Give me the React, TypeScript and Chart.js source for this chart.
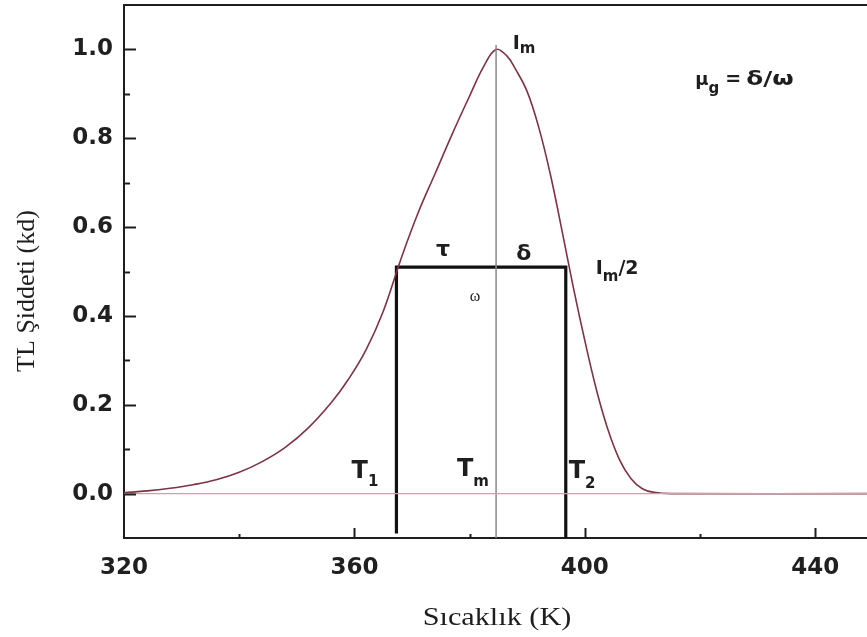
import React, { useEffect, useRef } from 'react';
import { Chart, registerables } from 'chart.js';
Chart.register(...registerables);

// ---- data ----
const xMin = 320;
const xMax = 449;
const yMin = -0.1;
const yMax = 1.1;

const curveT = [320, 324, 328, 332, 336, 340, 344, 348, 352, 356, 359, 362, 365, 368, 371, 374, 377, 380, 382.5, 384.6, 386.5, 388, 390, 392, 394, 396, 398, 400, 402, 404, 406, 408, 410, 412, 415, 449];
const curveI = [0.002, 0.006, 0.012, 0.02, 0.031, 0.048, 0.072, 0.104, 0.148, 0.205, 0.258, 0.323, 0.41, 0.525, 0.63, 0.72, 0.81, 0.895, 0.963, 1.0, 0.985, 0.955, 0.905, 0.825, 0.72, 0.595, 0.465, 0.345, 0.235, 0.145, 0.077, 0.034, 0.011, 0.003, 0.0, 0.0];

const baseT = [320, 449];
const baseI = [0, 0];

const tmT = [384.6, 384.6];
const tmI = [1.01, -0.1];

const boxT = [367.3, 367.3, 396.7, 396.7];
const boxI = [-0.09, 0.51, 0.51, -0.1];

const xTickLabels = ['320', '360', '400', '440'];
const yTickLabels = ['0.0', '0.2', '0.4', '0.6', '0.8', '1.0'];

const xTitle = 'Sıcaklık (K)';
const yTitle = 'TL Şiddeti (kd)';

type Seg = { t: string; size: number; dy?: number; serif?: boolean; gap?: number; sx?: number };
type Ann = { x: number; y: number; align?: 'left' | 'center'; segs: Seg[] };

const annotations: Ann[] = [
  { x: 387.5, y: 1.002, segs: [{ t: 'I', size: 19 }, { t: 'm', size: 15, dy: 4 }] },
  { x: 401.9, y: 0.494, segs: [{ t: 'I', size: 19 }, { t: 'm', size: 15, dy: 7 }, { t: '/2', size: 19 }] },
  { x: 375.4, y: 0.535, align: 'center', segs: [{ t: 'τ', size: 22 }] },
  { x: 389.4, y: 0.526, align: 'center', segs: [{ t: 'δ', size: 22 }] },
  { x: 380.95, y: 0.434, align: 'center', segs: [{ t: 'ω', size: 16, serif: true }] },
  { x: 419.2, y: 0.921, segs: [{ t: 'μ', size: 18 }, { t: 'g', size: 15, dy: 8, gap: 6 }, { t: '=', size: 19, gap: 5 }, { t: 'δ/ω', size: 19, sx: 1.3 }] },
  { x: 359.5, y: 0.036, segs: [{ t: 'T', size: 24 }, { t: '1', size: 15, dy: 8 }] },
  { x: 377.8, y: 0.040, segs: [{ t: 'T', size: 24 }, { t: 'm', size: 15, dy: 10 }] },
  { x: 397.2, y: 0.036, segs: [{ t: 'T', size: 24 }, { t: '2', size: 15, dy: 10 }] },
];

const pts = (xs: number[], ys: number[]) => xs.map((x, i) => ({ x, y: ys[i] }));

export default function App() {
  const ref = useRef<HTMLCanvasElement>(null);

  useEffect(() => {
    const canvas = ref.current!;
    const dark = '#1e1e1e';

    const annPlugin = {
      id: 'annotationsAndFrame',
      afterDraw(chart: any) {
        const { ctx, chartArea: ca, scales } = chart;
        const xs = scales.x;
        const ys = scales.y;
        ctx.save();
        ctx.strokeStyle = dark;
        ctx.lineWidth = 2;
        // top frame line
        ctx.beginPath();
        ctx.moveTo(ca.left, ca.top);
        ctx.lineTo(ca.right, ca.top);
        ctx.stroke();
        // inward ticks on y
        for (const t of ys.ticks) {
          const k = Math.round(t.value * 10);
          if (k < 0 || k > 10) continue;
          const len = k % 2 === 0 ? 12 : 6;
          const py = Math.round(ys.getPixelForValue(t.value)) + 0.5;
          ctx.beginPath();
          ctx.moveTo(ca.left, py);
          ctx.lineTo(ca.left + len, py);
          ctx.stroke();
        }
        // inward ticks on x
        for (const t of xs.ticks) {
          if (t.value <= xMin) continue;
          const len = Math.round(t.value - xMin) % 40 === 0 ? 10 : 4;
          const px = Math.round(xs.getPixelForValue(t.value)) + 0.5;
          ctx.beginPath();
          ctx.moveTo(px, ca.bottom);
          ctx.lineTo(px, ca.bottom - len);
          ctx.stroke();
        }

        // annotations
        ctx.fillStyle = dark;
        ctx.textBaseline = 'alphabetic';
        ctx.textAlign = 'left';
        const fontOf = (s: Seg) =>
          s.serif ? `${s.size}px "Liberation Serif"` : `bold ${s.size}px "DejaVu Sans"`;
        for (const a of annotations) {
          let total = 0;
          for (const s of a.segs) {
            ctx.font = fontOf(s);
            total += ctx.measureText(s.t).width * (s.sx || 1) + (s.gap || 0);
          }
          let px = xs.getPixelForValue(a.x);
          const py = ys.getPixelForValue(a.y);
          if (a.align === 'center') px -= total / 2;
          for (const s of a.segs) {
            ctx.font = fontOf(s);
            ctx.save();
            ctx.translate(px, py + (s.dy || 0));
            ctx.scale(s.sx || 1, 1);
            ctx.fillText(s.t, 0, 0);
            ctx.restore();
            px += ctx.measureText(s.t).width * (s.sx || 1) + (s.gap || 0);
          }
        }

        // axis titles
        ctx.font = '25px "Liberation Serif"';
        ctx.textAlign = 'center';
        ctx.save();
        ctx.translate(497, 625);
        ctx.scale(1.21, 1);
        ctx.fillText(xTitle, 0, 0);
        ctx.restore();

        ctx.save();
        ctx.font = '26px "Liberation Serif"';
        ctx.translate(34, 291);
        ctx.rotate(-Math.PI / 2);
        ctx.fillText(yTitle, 0, 0);
        ctx.restore();

        ctx.restore();
      },
    };

    const tickFont = { family: '"DejaVu Sans"', weight: 'bold' as const, size: 23 };

    const chart = new Chart(canvas, {
      type: 'line',
      data: {
        datasets: [
          {
            data: pts(baseT, baseI),
            borderColor: '#c9a3ab',
            borderWidth: 1.2,
            pointRadius: 0,
            tension: 0,
          },
          {
            data: pts(tmT, tmI),
            borderColor: '#8a8a8a',
            borderWidth: 1.5,
            pointRadius: 0,
            tension: 0,
          },
          {
            data: pts(curveT, curveI),
            borderColor: '#7e3344',
            borderWidth: 1.6,
            pointRadius: 0,
            tension: 0.4,
          },
          {
            data: pts(boxT, boxI),
            borderColor: '#111111',
            borderWidth: 3.2,
            pointRadius: 0,
            tension: 0,
          },
        ],
      },
      options: {
        animation: false,
        responsive: false,
        layout: { padding: { top: 5, right: 0, left: 0, bottom: 0 } },
        plugins: { legend: { display: false }, tooltip: { enabled: false } },
        elements: { point: { radius: 0 } },
        scales: {
          x: {
            type: 'linear',
            min: xMin,
            max: xMax,
            afterFit: (s: any) => {
              s.height = 99;
              s.paddingLeft = 0;
              s.paddingRight = 0;
            },
            grid: { display: false, drawTicks: false },
            border: { display: true, color: dark, width: 2 },
            ticks: {
              stepSize: 20,
              includeBounds: false,
              autoSkip: false,
              maxRotation: 0,
              padding: 16,
              color: '#202020',
              font: tickFont,
              callback: (v: any) => (xTickLabels.includes(String(v)) ? String(v) : ''),
            },
          },
          y: {
            type: 'linear',
            min: yMin,
            max: yMax,
            afterFit: (s: any) => {
              s.width = 124;
              s.paddingTop = 0;
              s.paddingBottom = 0;
            },
            grid: { display: false, drawTicks: false },
            border: { display: true, color: dark, width: 2 },
            ticks: {
              stepSize: 0.1,
              includeBounds: false,
              autoSkip: false,
              padding: 11,
              color: '#202020',
              font: tickFont,
              callback: (v: any) => {
                const s = (Math.round(Number(v) * 10) / 10).toFixed(1);
                return yTickLabels.includes(s) ? s : '';
              },
            },
          },
        },
      },
      plugins: [annPlugin],
    } as any);

    return () => chart.destroy();
  }, []);

  return (
    <div style={{ position: 'fixed', left: 0, top: 0, width: 867, height: 637, background: '#ffffff' }}>
      <canvas ref={ref} width={867} height={637} style={{ display: 'block', width: 867, height: 637 }} />
    </div>
  );
}
